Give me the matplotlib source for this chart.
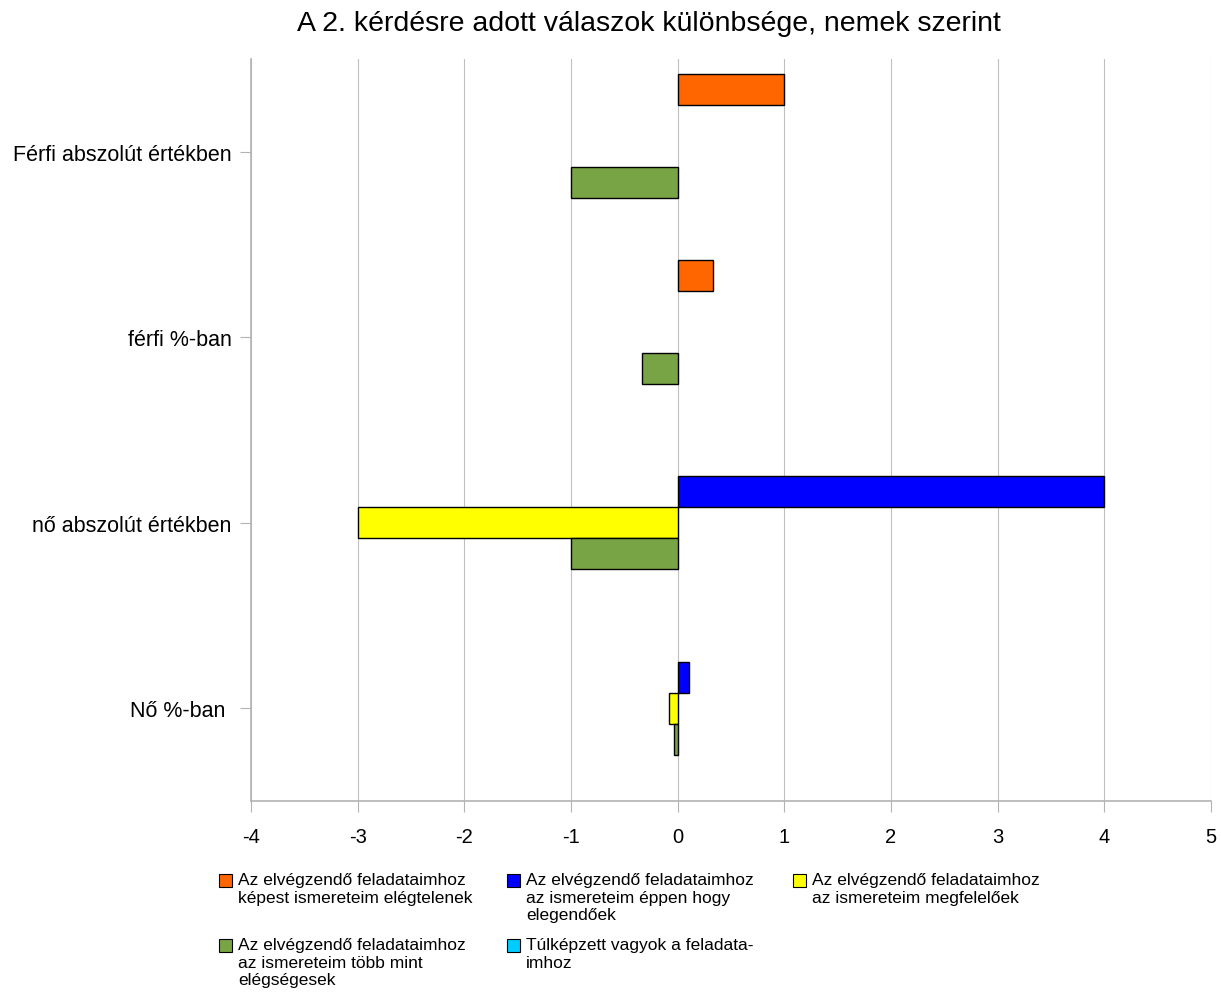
import matplotlib
matplotlib.use("Agg")
import matplotlib.pyplot as plt
from matplotlib.patches import Rectangle
import numpy as np

plt.rcParams['font.family'] = ['Liberation Sans', 'DejaVu Sans']
plt.rcParams['axes.unicode_minus'] = False

title = "A 2. kérdésre adott válaszok különbsége, nemek szerint"
categories = ["Férfi abszolút értékben", "férfi %-ban", "nő abszolút értékben", "Nő %-ban "]

series_names = [
    "Az elvégzendő feladataimhoz\nképest ismereteim elégtelenek",
    "Az elvégzendő feladataimhoz\naz ismereteim éppen hogy\nelegendőek",
    "Az elvégzendő feladataimhoz\naz ismereteim megfelelőek",
    "Az elvégzendő feladataimhoz\naz ismereteim több mint\nelégségesek",
    "Túlképzett vagyok a feladata-\nimhoz",
]
series_colors = ["#FF6600", "#0000FF", "#FFFF00", "#78A446", "#00CCFF"]

elegtelen = [1, 0.33, 0, 0]
eppen = [0, 0, 4, 0.11]
megfelelo = [0, 0, -3, -0.08]
tobb = [-1, -0.33, -1, -0.03]
tulkepzett = [0, 0, 0, 0]
series_values = [elegtelen, eppen, megfelelo, tobb, tulkepzett]

xticks = [-4, -3, -2, -1, 0, 1, 2, 3, 4, 5]

fig = plt.figure(figsize=(12.21, 9.95), dpi=100)
ax = fig.add_axes([251/1221, 1-802/995, 960/1221, 742/995])

y = np.arange(len(categories))
h = 1/6
for i, vals in enumerate(series_values):
    lw = [1.0 if v != 0 else 0 for v in vals]
    ax.barh(y + (i-2)*h, vals, height=h, color=series_colors[i],
            edgecolor="black", linewidth=lw, zorder=3)

ax.set_xlim(-4, 5)
ax.set_ylim(len(categories)-0.5, -0.5)
ax.set_xticks(xticks)
ax.set_yticks(y)
ax.set_yticklabels(categories, fontsize=15.5)
ax.tick_params(axis='x', labelsize=14.5, length=8, color="#b3b3b3", pad=11)
ax.tick_params(axis='y', length=8, color="#b3b3b3", pad=6)
ax.xaxis.grid(True, color="#c0c0c0", linewidth=0.8, zorder=0)
for s in ["top", "right"]:
    ax.spines[s].set_visible(False)
for s in ["left", "bottom"]:
    ax.spines[s].set_color("#b3b3b3")
    ax.spines[s].set_linewidth(1.2)

fig.text(649/1221, 1-24/995, title, ha="center", va="center", fontsize=20.5)

# legend, three columns, row by row
col_x = [219, 507, 793]
row_y = [875, 940]
for i, (name, col) in enumerate(zip(series_names, series_colors)):
    px = col_x[i % 3]
    py = row_y[i // 3]
    fig.add_artist(Rectangle((px/1221, 1-(py+13)/995), 13/1221, 13/995,
                             transform=fig.transFigure, facecolor=col,
                             edgecolor="black", linewidth=0.8))
    fig.text((px+19)/1221, 1-(py-2)/995, name, ha="left", va="top",
             fontsize=12.5, linespacing=1.22)

fig.savefig("out.png", dpi=100)
